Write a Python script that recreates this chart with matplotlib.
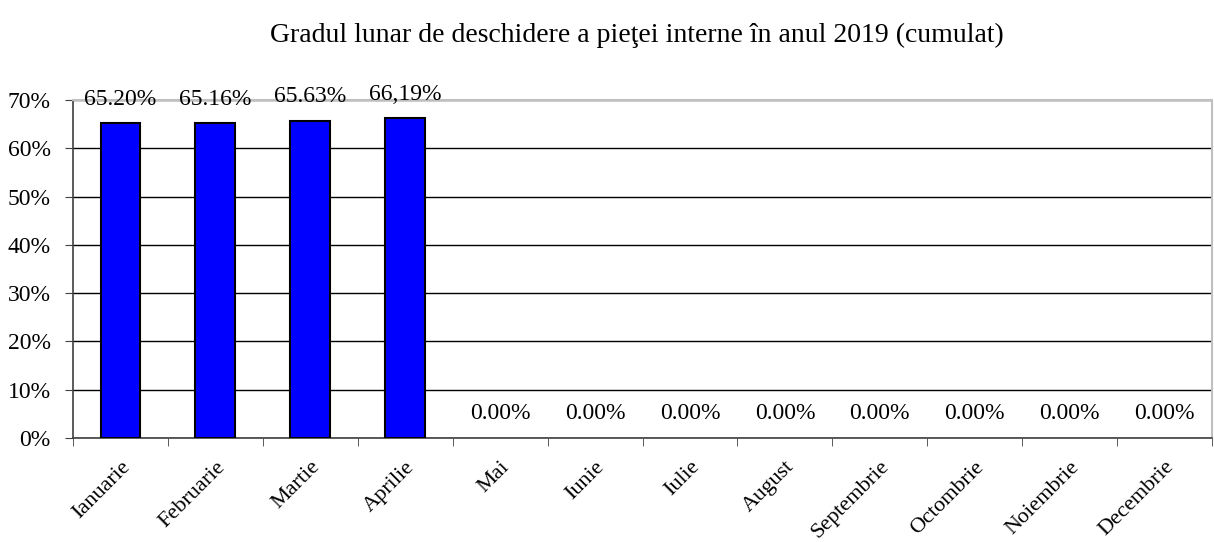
import matplotlib
matplotlib.use("Agg")
import matplotlib.pyplot as plt
import numpy as np

luni = ["Ianuarie", "Februarie", "Martie", "Aprilie", "Mai", "Iunie", "Iulie",
        "August", "Septembrie", "Octombrie", "Noiembrie", "Decembrie"]
valori = [65.20, 65.16, 65.63, 66.19, 0, 0, 0, 0, 0, 0, 0, 0]
etichete = ["65.20%", "65.16%", "65.63%", "66,19%", "0.00%", "0.00%", "0.00%",
            "0.00%", "0.00%", "0.00%", "0.00%", "0.00%"]

plt.rcParams['font.family'] = ['Liberation Serif', 'DejaVu Serif']

fig = plt.figure(figsize=(12.14, 5.42), dpi=100)
ax = fig.add_axes([73/1214, 1 - 438/542, (1212-73)/1214, (438-100)/542])

x = np.arange(len(luni))
lw = [1.5 if v > 0 else 0 for v in valori]
ax.bar(x, valori, width=0.42, color='#0000ff', edgecolor='black', linewidth=lw, zorder=3)

for xi, v, t in zip(x, valori, etichete):
    ax.text(xi, v + 5, t, ha='center', va='center', fontsize=17)

ax.set_xlim(-0.5, len(luni) - 0.5)
ax.set_ylim(0, 70)
ax.set_yticks(range(0, 71, 10))
ax.set_yticklabels([f"{v}%" for v in range(0, 71, 10)], fontsize=17)
ax.yaxis.grid(True, color='black', linewidth=1)
ax.set_axisbelow(True)

ax.set_xticks(x)
ax.set_xticklabels(luni, rotation=45, ha='right', rotation_mode='anchor', fontsize=16)
ax.tick_params(axis='x', length=0, pad=14)
ax.set_xticks(np.arange(-0.5, len(luni), 1), minor=True)
ax.tick_params(axis='x', which='minor', length=6, color='#404040')
ax.tick_params(axis='y', length=6, color='#404040', pad=10)

for s in ['top', 'right']:
    ax.spines[s].set_color('#c0c0c0')
    ax.spines[s].set_linewidth(1.5)
for s in ['left', 'bottom']:
    ax.spines[s].set_color('#404040')
    ax.spines[s].set_linewidth(1.2)

fig.text(0.525, 0.935, "Gradul lunar de deschidere a pieţei interne în anul 2019 (cumulat)",
         ha='center', va='center', fontsize=20)

fig.savefig("out.png", dpi=100)
